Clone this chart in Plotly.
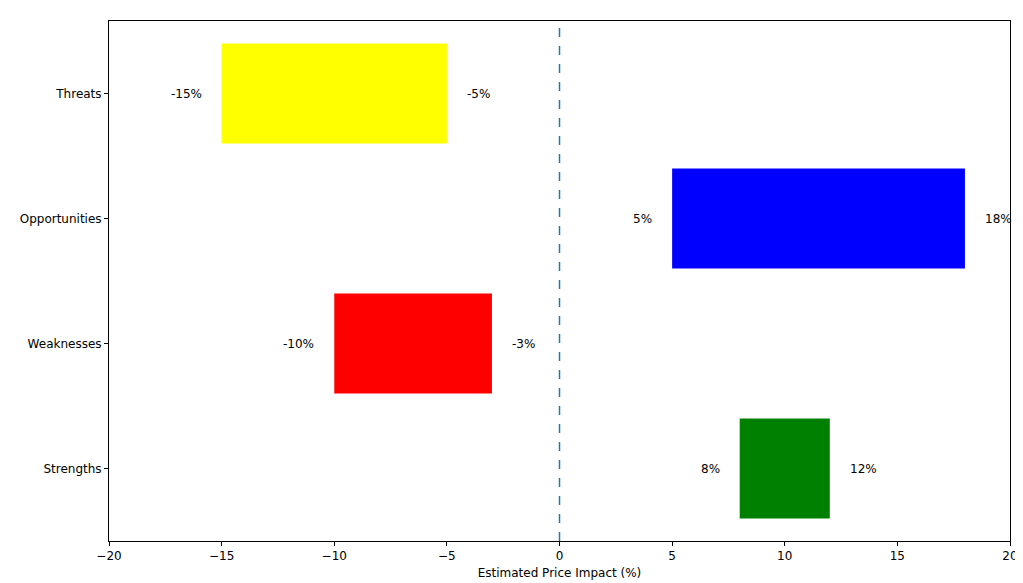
import plotly.graph_objects as go

categories = ["Strengths", "Weaknesses", "Opportunities", "Threats"]
low = [8, -10, 5, -15]
high = [12, -3, 18, -5]
colors = ["green", "red", "blue", "yellow"]

fig = go.Figure()
fig.add_trace(go.Bar(
    y=categories, x=[h - l for h, l in zip(high, low)], base=low,
    orientation="h", marker=dict(color=colors, line=dict(width=0)),
    width=0.8, showlegend=False, hoverinfo="skip"))

ann = []
for c, l, h in zip(categories, low, high):
    ann.append(dict(x=l, y=c, text=f"{l}%", showarrow=False, xanchor="right", xshift=-18,
                    font=dict(size=12, color="black")))
    ann.append(dict(x=h, y=c, text=f"{h}%", showarrow=False, xanchor="left", xshift=18,
                    font=dict(size=12, color="black")))

fig.add_shape(type="line", x0=0, x1=0, y0=0, y1=1, yref="paper",
              line=dict(color="#1f77b4", dash="dash", width=1.5))

axis_common = dict(showline=True, linecolor="black", linewidth=1, mirror=True,
                   ticks="outside", ticklen=4, tickcolor="black", showgrid=False,
                   zeroline=False, tickfont=dict(size=12, color="black"))
fig.update_layout(
    width=1023, height=583, template="none",
    plot_bgcolor="white", paper_bgcolor="white",
    margin=dict(l=101, r=21, t=13, b=50),
    font=dict(family="DejaVu Sans", size=12, color="black"),
    annotations=ann,
    xaxis=dict(range=[-20, 20], dtick=5,
               title=dict(text="Estimated Price Impact (%)", standoff=6, font=dict(size=12)),
               **axis_common),
    yaxis=dict(range=[-0.58, 3.58], categoryorder="array", categoryarray=categories,
               **axis_common),
)
fig.write_html("out.html")
